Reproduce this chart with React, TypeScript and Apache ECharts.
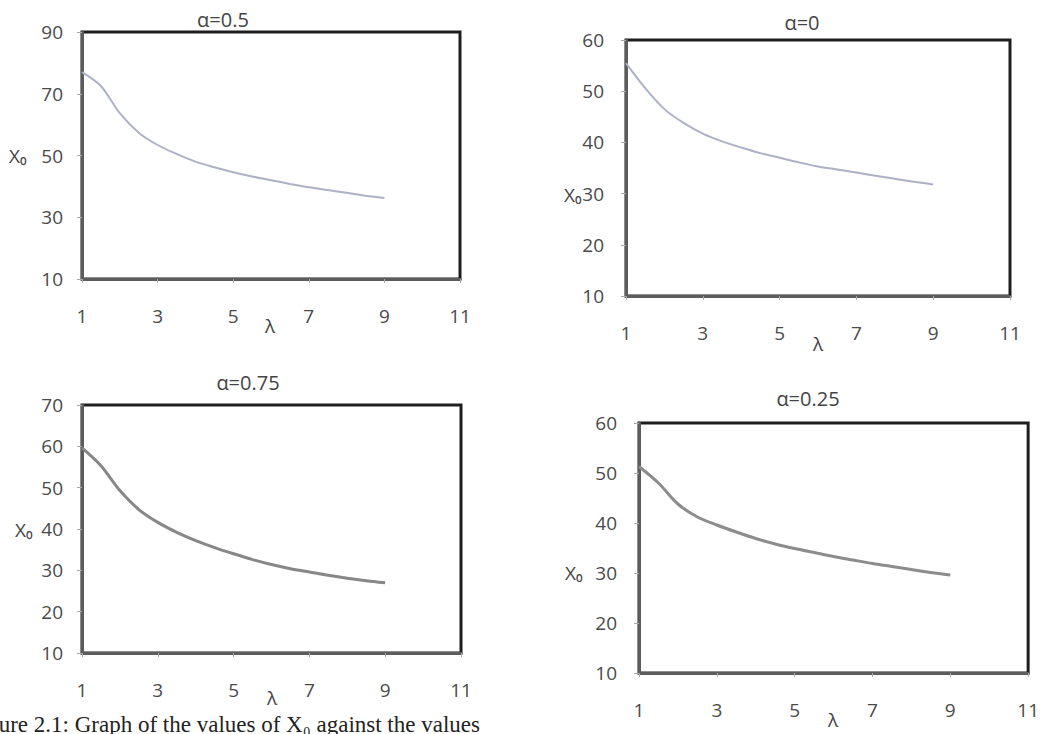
import React, { useEffect, useRef } from "react";
import * as echarts from "echarts";

const lambdaValues = [1, 1.5, 2, 2.5, 3, 3.5, 4, 4.5, 5, 5.5, 6, 6.5, 7, 7.5, 8, 8.5, 9];
const xTicks = [1, 3, 5, 7, 9, 11];

const alpha05 = [77.0, 72.5, 63.7, 57.4, 53.4, 50.5, 48.0, 46.2, 44.6, 43.2, 42.0, 40.8, 39.7, 38.8, 37.9, 37.0, 36.2];
const alpha0 = [55.5, 50.6, 46.5, 43.8, 41.7, 40.2, 39.0, 37.9, 37.0, 36.1, 35.3, 34.7, 34.1, 33.5, 32.9, 32.3, 31.8];
const alpha075 = [59.6, 55.3, 49.3, 44.7, 41.6, 39.2, 37.2, 35.5, 34.0, 32.6, 31.4, 30.4, 29.6, 28.8, 28.1, 27.5, 27.0];
const alpha025 = [51.3, 48.0, 43.8, 41.2, 39.6, 38.2, 36.9, 35.8, 34.9, 34.1, 33.3, 32.6, 31.9, 31.3, 30.7, 30.1, 29.6];

const titles = ["α=0.5", "α=0", "α=0.75", "α=0.25"];
const yMins = [10, 10, 10, 10];
const yMaxs = [90, 60, 70, 60];
const yIntervals = [20, 10, 10, 10];
const caption = "Figure 2.1: Graph of the values of X₀ against the values";

const FONT = "'Open Sans', Lato, sans-serif";
const LABEL_COLOR = "#4a4a4a";

export default function App() {
  const ref = useRef<HTMLDivElement>(null);

  useEffect(() => {
    if (!ref.current) return;
    const chart = echarts.init(ref.current, null, { renderer: "svg" });

    const grids = [
      { left: 82, top: 32, width: 378, height: 247 },
      { left: 626, top: 40, width: 384, height: 256 },
      { left: 82, top: 405, width: 379, height: 248 },
      { left: 639, top: 423, width: 391, height: 250 },
    ];
    const yMargins = [19, 22, 19, 22];
    const series = [alpha05, alpha0, alpha075, alpha025];
    const lineColors = ["#adb1c6", "#adb1c6", "#878787", "#8c8c8c"];
    const lineWidths = [2, 2, 3, 3];

    const option: any = {
      animation: false,
      backgroundColor: "#ffffff",
      grid: grids.map((g) => ({
        ...g,
        show: true,
        borderColor: "#1e1e1e",
        borderWidth: 3,
        backgroundColor: "#ffffff",
        containLabel: false,
      })),
      xAxis: grids.map((_, i) => ({
        type: "value",
        gridIndex: i,
        min: xTicks[0],
        max: xTicks[xTicks.length - 1],
        interval: 2,
        axisLine: { show: true, onZero: false, lineStyle: { color: "#5c5c5c", width: 3 } },
        axisTick: { show: true, length: 4, lineStyle: { color: "#aaa", width: 1 } },
        axisLabel: { color: LABEL_COLOR, fontSize: 19, fontFamily: FONT, margin: 27 },
        splitLine: { show: false },
      })),
      yAxis: grids.map((_, i) => ({
        type: "value",
        gridIndex: i,
        min: yMins[i],
        max: yMaxs[i],
        interval: yIntervals[i],
        axisLine: { show: true, onZero: false, lineStyle: { color: "#5c5c5c", width: 3 } },
        axisTick: { show: true, length: 5, lineStyle: { color: "#aaa", width: 1 } },
        axisLabel: { color: LABEL_COLOR, fontSize: 19, fontFamily: FONT, margin: yMargins[i] },
        splitLine: { show: false },
      })),
      series: series.map((vals, i) => ({
        type: "line",
        xAxisIndex: i,
        yAxisIndex: i,
        data: lambdaValues.map((l, k) => [l, vals[k]]),
        showSymbol: false,
        smooth: 0.3,
        lineStyle: { color: lineColors[i], width: lineWidths[i] },
      })),
      graphic: [
        ...[
          [223, 19],
          [802, 22],
          [248, 382],
          [808, 398],
        ].map(([x, y], i) => ({
          type: "text",
          x,
          y,
          style: {
            text: titles[i],
            fill: "#444",
            font: `20px ${FONT}`,
            textAlign: "center",
            textVerticalAlign: "middle",
          },
        })),
        ...[
          [9, 156],
          [564, 195],
          [15, 530],
          [565, 573],
        ].map(([x, y]) => ({
          type: "text",
          x,
          y,
          style: {
            text: "X₀",
            fill: "#444",
            font: `19px ${FONT}`,
            textAlign: "left",
            textVerticalAlign: "middle",
          },
        })),
        ...[
          [270, 326],
          [818, 344],
          [272, 698],
          [833, 720],
        ].map(([x, y]) => ({
          type: "text",
          x,
          y,
          style: {
            text: "λ",
            fill: "#444",
            font: `19px ${FONT}`,
            textAlign: "center",
            textVerticalAlign: "middle",
          },
        })),
        {
          type: "text",
          x: -32,
          y: 724,
          style: {
            text: caption,
            fill: "#222",
            font: "23px 'Liberation Serif', 'Times New Roman', serif",
            textAlign: "left",
            textVerticalAlign: "middle",
          },
        },
      ],
    };

    chart.setOption(option);
    return () => chart.dispose();
  }, []);

  return (
    <div
      ref={ref}
      style={{ position: "fixed", left: 0, top: 0, width: 1042, height: 734, background: "#fff" }}
    />
  );
}
